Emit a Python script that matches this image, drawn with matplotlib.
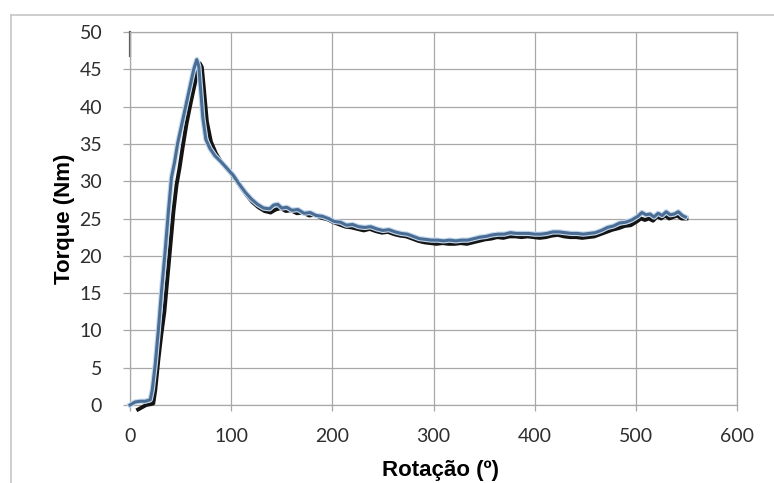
import matplotlib
matplotlib.use("Agg")
import matplotlib.pyplot as plt
from matplotlib.lines import Line2D
import matplotlib.patheffects as pe

# Test 2 (blue) - rotation in degrees and torque in N.m
blue_rot = [
    0, 5, 10, 15, 20, 22, 25, 28, 31, 35,
    38, 41, 44, 47, 51, 55, 59, 63, 66, 68,
    70, 72, 75, 79, 84, 90, 96, 102, 108, 114,
    120, 126, 132, 138, 142, 146, 150, 155, 160, 166,
    172, 178, 184, 190, 196, 202, 208, 214, 220, 226,
    232, 238, 244, 250, 256, 262, 268, 274, 280, 286,
    292, 298, 304, 310, 316, 322, 328, 334, 340, 346,
    352, 358, 364, 370, 376, 382, 388, 394, 400, 406,
    412, 418, 424, 430, 436, 442, 448, 454, 460, 466,
    472, 478, 484, 490, 496, 502, 506, 510, 514, 518,
    522, 526, 530, 534, 538, 542, 546, 549,
]
blue_torque = [
    0.0, 0.4, 0.5, 0.5, 0.7, 2.0, 5.5, 10.0, 15.0, 21.0,
    26.0, 30.5, 32.5, 35.0, 37.5, 40.0, 42.5, 45.0, 46.3, 45.4,
    42.0, 38.5, 35.6, 34.4, 33.4, 32.6, 31.7, 30.8, 29.6, 28.5,
    27.6, 26.9, 26.4, 26.3, 26.8, 26.9, 26.4, 26.5, 26.1, 26.2,
    25.7, 25.8, 25.4, 25.3, 25.0, 24.6, 24.5, 24.1, 24.2, 23.9,
    23.8, 23.9, 23.6, 23.4, 23.5, 23.2, 23.0, 22.9, 22.6, 22.3,
    22.2, 22.1, 22.1, 22.0, 22.1, 22.0, 22.1, 22.1, 22.3, 22.5,
    22.6, 22.8, 22.9, 22.9, 23.1, 23.0, 23.0, 23.0, 22.9, 22.9,
    23.0, 23.2, 23.2, 23.1, 23.0, 23.0, 22.9, 23.0, 23.1, 23.4,
    23.8, 24.0, 24.4, 24.5, 24.8, 25.3, 25.8, 25.5, 25.6, 25.2,
    25.7, 25.4, 25.9, 25.5, 25.6, 25.9, 25.4, 25.2,
]

# Test 1 (black)
black_rot = [
    8, 12, 16, 20, 23, 25, 28, 31, 34, 37,
    40, 43, 46, 49, 52, 56, 60, 64, 67, 69,
    71, 73, 76, 80, 85, 91, 97, 103, 109, 115,
    121, 127, 133, 139, 144, 149, 154, 159, 165, 171,
    177, 183, 189, 195, 201, 207, 213, 219, 225, 231,
    237, 243, 249, 255, 261, 267, 273, 279, 285, 291,
    297, 303, 309, 315, 321, 327, 333, 339, 345, 351,
    357, 363, 369, 375, 381, 387, 393, 399, 405, 411,
    417, 423, 429, 435, 441, 447, 453, 459, 465, 471,
    477, 483, 489, 495, 501, 505, 509, 513, 517, 521,
    525, 529, 533, 537, 541, 545, 550,
]
black_torque = [
    -0.6, -0.3, 0.0, 0.1, 0.2, 2.0, 6.0, 9.5, 12.5, 17.0,
    21.5, 26.0, 29.5, 31.8, 34.5, 37.8, 40.5, 43.0, 45.0, 45.8,
    45.3, 42.5, 38.0, 35.3, 33.7, 32.4, 31.5, 30.5, 29.3, 28.2,
    27.2, 26.5, 26.0, 25.8, 26.2, 26.4, 26.0, 26.1, 25.7, 25.8,
    25.4, 25.5, 25.1, 24.9, 24.5, 24.2, 23.9, 23.8, 23.6, 23.4,
    23.6, 23.3, 23.1, 23.2, 22.9, 22.7, 22.6, 22.3, 22.0, 21.8,
    21.7, 21.6, 21.7, 21.6, 21.6, 21.7, 21.6, 21.8, 22.0, 22.2,
    22.3, 22.5, 22.4, 22.6, 22.6, 22.5, 22.6, 22.5, 22.4, 22.5,
    22.7, 22.8, 22.6, 22.5, 22.5, 22.4, 22.5, 22.6, 22.9, 23.2,
    23.5, 23.7, 24.0, 24.1, 24.6, 25.0, 24.8, 25.0, 24.7, 25.3,
    25.0, 25.4, 25.0, 25.2, 25.4, 25.0, 25.0,
]

x_ticks = [0, 100, 200, 300, 400, 500, 600]
y_ticks = [0, 5, 10, 15, 20, 25, 30, 35, 40, 45, 50]

W, H = 774, 483
fig = plt.figure(figsize=(W / 100, H / 100), dpi=100)
fig.patch.set_facecolor("white")

# chart-area frame (left and top edges)
frame_col = "#c6c6c6"
fig.add_artist(Line2D([11 / W, 11 / W], [0, 1 - 15 / H],
                      transform=fig.transFigure, color=frame_col, lw=1.2))
fig.add_artist(Line2D([11 / W, 1], [1 - 15 / H, 1 - 15 / H],
                      transform=fig.transFigure, color=frame_col, lw=1.2))

ax = fig.add_axes([130 / W, 1 - 405 / H, (737 - 130) / W, (405 - 32) / H])
ax.set_xlim(0, 600)
ax.set_ylim(0, 50)

grid_col = "#a8a8a8"
ax.grid(True, color=grid_col, lw=0.9)
ax.set_axisbelow(True)
for s in ax.spines.values():
    s.set_color(grid_col)
    s.set_linewidth(0.9)

ax.set_xticks(x_ticks)
ax.set_yticks(y_ticks)
ax.tick_params(axis="y", direction="out", length=5, width=0.9, color=grid_col,
               pad=15, labelsize=14, labelcolor="#2e2e2e")
ax.tick_params(axis="x", direction="out", length=4.5, width=0.9, color=grid_col,
               pad=12, labelsize=14, labelcolor="#2e2e2e")
for lab in ax.get_xticklabels() + ax.get_yticklabels():
    lab.set_fontfamily("Lato")

ax.axvline(0, ymin=0.935, ymax=1.0, color="#555555", lw=1.6, clip_on=False)

ax.plot(black_rot, black_torque, color="#141414", lw=2.8,
        solid_joinstyle="round", clip_on=False, zorder=3)
ax.plot(blue_rot, blue_torque, color="#4c6d93", lw=2.2,
        solid_joinstyle="round", clip_on=False, zorder=4,
        path_effects=[pe.Stroke(linewidth=3.8, foreground="#c2d9f0"), pe.Normal()])

ax.set_xlabel("Rotação (º)", fontfamily="Liberation Sans", fontweight="bold",
              fontsize=16)
ax.set_ylabel("Torque (Nm)", fontfamily="Liberation Sans", fontweight="bold",
              fontsize=16, labelpad=3)
ax.xaxis.set_label_coords(0.511, -0.148)

fig.savefig("out.png", dpi=100, facecolor="white")
